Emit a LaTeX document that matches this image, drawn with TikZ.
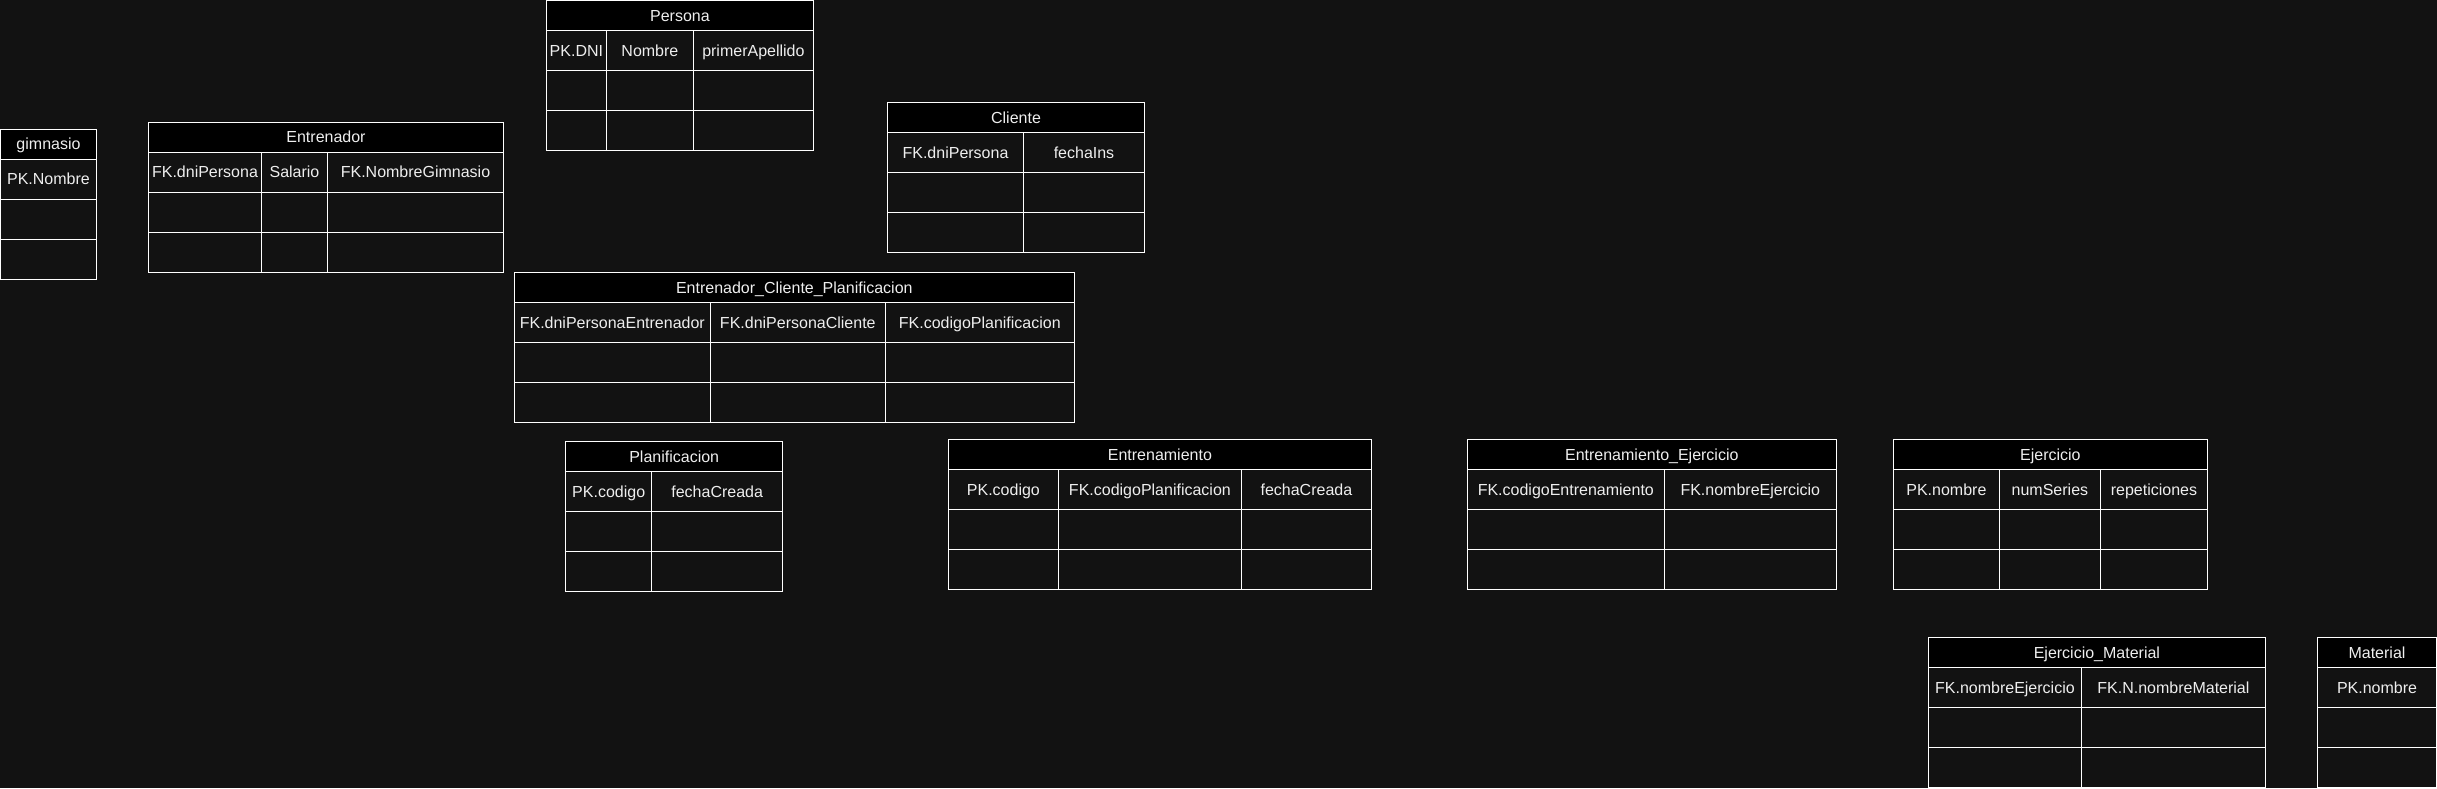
\documentclass[tikz,border=0pt]{standalone}
\usepackage{fontspec}
\setmainfont{Liberation Sans}
\usetikzlibrary{shapes}

\definecolor{fondo}{RGB}{18,18,18}
\definecolor{letra}{RGB}{238,238,238}
\newcommand{\titulo}[1]{\rule[-9.3pt]{0pt}{30pt}#1}
\newcommand{\celda}[1]{\rule[-13.8pt]{0pt}{39pt}#1}
\newcommand{\campo}[1]{\celda{#1}\nodepart{two}\celda{}\nodepart{three}\celda{}}

\begin{document}
\begin{tikzpicture}[x=1pt, y=-1pt, line width=1pt,
  font=\fontsize{16pt}{19pt}\selectfont,
  tabhead/.style={rectangle, draw=white, fill=black, text=letra, inner sep=0pt, outer sep=0pt, anchor=north west, minimum width=#1},
  tabcol/.style={rectangle split, rectangle split parts=3, draw=white, text=letra, inner sep=0pt, outer sep=0pt, anchor=north west, minimum width=#1}]

  \fill[fondo] (0,0) rectangle (2437,788);
  \useasboundingbox (0,0) rectangle (2437,788);

  \node[tabhead=96] (gimnasio) at (0.5,129) {\titulo{gimnasio}};
  \node[tabcol=96] (gimnasio-1) at (gimnasio.south west) {\campo{PK.Nombre}};

  \node[tabhead=355] (entrenador) at (148.5,122) {\titulo{Entrenador}};
  \node[tabcol=113] (entrenador-1) at (entrenador.south west) {\campo{FK.dniPersona}};
  \node[tabcol=66] (entrenador-2) at (entrenador-1.north east) {\campo{Salario}};
  \node[tabcol=176] (entrenador-3) at (entrenador-2.north east) {\campo{FK.NombreGimnasio}};

  \node[tabhead=267] (persona) at (546.4,0.5) {\titulo{Persona}};
  \node[tabcol=60] (persona-1) at (persona.south west) {\campo{PK.DNI}};
  \node[tabcol=87] (persona-2) at (persona-1.north east) {\campo{Nombre}};
  \node[tabcol=120] (persona-3) at (persona-2.north east) {\campo{primerApellido}};

  \node[tabhead=257] (cliente) at (887.5,102.3) {\titulo{Cliente}};
  \node[tabcol=136] (cliente-1) at (cliente.south west) {\campo{FK.dniPersona}};
  \node[tabcol=121] (cliente-2) at (cliente-1.north east) {\campo{fechaIns}};

  \node[tabhead=560] (ecp) at (514.3,272.3) {\titulo{Entrenador\_Cliente\_Planificacion}};
  \node[tabcol=196] (ecp-1) at (ecp.south west) {\campo{FK.dniPersonaEntrenador}};
  \node[tabcol=175] (ecp-2) at (ecp-1.north east) {\campo{FK.dniPersonaCliente}};
  \node[tabcol=189] (ecp-3) at (ecp-2.north east) {\campo{FK.codigoPlanificacion}};

  \node[tabhead=217] (planificacion) at (565.7,441.3) {\titulo{Planificacion}};
  \node[tabcol=86] (planificacion-1) at (planificacion.south west) {\campo{PK.codigo}};
  \node[tabcol=131] (planificacion-2) at (planificacion-1.north east) {\campo{fechaCreada}};

  \node[tabhead=423] (entrenamiento) at (948.4,439.3) {\titulo{Entrenamiento}};
  \node[tabcol=110] (entrenamiento-1) at (entrenamiento.south west) {\campo{PK.codigo}};
  \node[tabcol=183] (entrenamiento-2) at (entrenamiento-1.north east) {\campo{FK.codigoPlanificacion}};
  \node[tabcol=130] (entrenamiento-3) at (entrenamiento-2.north east) {\campo{fechaCreada}};

  \node[tabhead=369] (entejer) at (1467.3,439.3) {\titulo{Entrenamiento\_Ejercicio}};
  \node[tabcol=197] (entejer-1) at (entejer.south west) {\campo{FK.codigoEntrenamiento}};
  \node[tabcol=172] (entejer-2) at (entejer-1.north east) {\campo{FK.nombreEjercicio}};

  \node[tabhead=314] (ejercicio) at (1893.4,439.3) {\titulo{Ejercicio}};
  \node[tabcol=106] (ejercicio-1) at (ejercicio.south west) {\campo{PK.nombre}};
  \node[tabcol=101] (ejercicio-2) at (ejercicio-1.north east) {\campo{numSeries}};
  \node[tabcol=107] (ejercicio-3) at (ejercicio-2.north east) {\campo{repeticiones}};

  \node[tabhead=337] (ejermat) at (1928.4,637.3) {\titulo{Ejercicio\_Material}};
  \node[tabcol=153] (ejermat-1) at (ejermat.south west) {\campo{FK.nombreEjercicio}};
  \node[tabcol=184] (ejermat-2) at (ejermat-1.north east) {\campo{FK.N.nombreMaterial}};

  \node[tabhead=119] (material) at (2317.5,637.3) {\titulo{Material}};
  \node[tabcol=119] (material-1) at (material.south west) {\campo{PK.nombre}};

\end{tikzpicture}
\end{document}
